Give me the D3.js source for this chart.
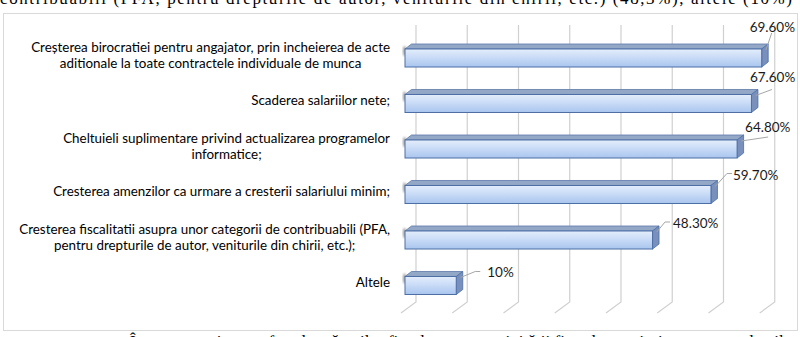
<!DOCTYPE html>
<html>
<head>
<meta charset="utf-8">
<script src="https://cdn.jsdelivr.net/npm/d3@7"></script>
<style>
  body { margin: 0; background: #fff; }
  svg { display: block; }
</style>
</head>
<body>
<svg id="chart" width="800" height="337"></svg>
<script>
// data
const categories = [
    ["Creșterea birocratiei pentru angajator, prin incheierea de acte", "aditionale la toate contractele individuale de munca"],
    ["Scaderea salariilor nete;"],
    ["Cheltuieli suplimentare privind actualizarea programelor", "informatice;"],
    ["Cresterea amenzilor ca urmare a cresterii salariului minim;"],
    ["Cresterea fiscalitatii asupra unor categorii de contribuabili (PFA,", "pentru drepturile de autor, veniturile din chirii, etc.);"],
    ["Altele"]
];
const values = [69.6, 67.6, 64.8, 59.7, 48.3, 10];
const valueLabels = ["69.60%", "67.60%", "64.80%", "59.70%", "48.30%", "10%"];
const gridTicks = [0, 10, 20, 30, 40, 50, 60, 70];

const textAbove = "contribuabili (PFA, pentru drepturile de autor, veniturile din chirii, etc.) (48,3%), altele (10%)";
const textBelow = "În ceea ce privește efectele măsurilor fiscale asupra activității firmelor, majoritatea respondenților";

// hand placed data labels (offset from bar end / bar top) and where the leader meets the label
const labelNudge = [
    {dx: -12, dy: -22, lx: 22, ly: 6, h: false},
    {dx: -1.5, dy: -17, lx: 22, ly: 12, h: false},
    {dx: 8, dy: -13, lx: 23, ly: 10, h: false},
    {dx: 22, dy: -10, lx: -1, ly: -2, h: true},
    {dx: 20.5, dy: -8, lx: -3, ly: -1, h: true},
    {dx: 31, dy: -4, lx: -7, ly: -1, h: true}
];

const svg = d3.select("#chart");
const font = "Lato, 'Open Sans', sans-serif";

// the 3d look
const wallDx = 11, wallTop = 25, wallBottom = 302;
const floorDx = -15, floorDy = 11;
const depthX = 6.5, depthY = -5;

const x = d3.scaleLinear().domain([0, 70]).range([405, 763.75]);
const y = d3.scaleBand()
    .domain(d3.range(categories.length))
    .range([35.25, 308.25])
    .paddingInner(0.604)
    .paddingOuter(0.302);

const defs = svg.append("defs");
const grad = defs.append("linearGradient").attr("id", "front")
    .attr("x1", 0).attr("y1", 0).attr("x2", 0).attr("y2", 1);
grad.append("stop").attr("offset", "0%").attr("stop-color", "#e4eefc");
grad.append("stop").attr("offset", "45%").attr("stop-color", "#cadcf7");
grad.append("stop").attr("offset", "100%").attr("stop-color", "#a9c5ee");
defs.append("filter").attr("id", "blur")
    .append("feGaussianBlur").attr("stdDeviation", 1.2);

// surrounding document text, cut by the screenshot like in the original
svg.append("text")
    .attr("x", 0).attr("y", 4)
    .attr("textLength", 792).attr("lengthAdjust", "spacing")
    .style("font-family", "'Liberation Serif', serif")
    .style("font-size", "17px")
    .text(textAbove);
svg.append("text")
    .attr("x", 130).attr("y", 347)
    .attr("textLength", 668).attr("lengthAdjust", "spacing")
    .style("font-family", "'Liberation Serif', serif")
    .style("font-size", "17px")
    .text(textBelow);

// chart border
svg.append("rect")
    .attr("x", 3.5).attr("y", 13.5)
    .attr("width", 794).attr("height", 317)
    .attr("fill", "#fff")
    .attr("stroke", "#d9d9d9");

// gridlines on the back wall + floor
svg.append("g").selectAll("path")
    .data(gridTicks)
    .enter()
    .append("path")
    .attr("d", d => {
        const gx = x(d) + wallDx;
        return `M${gx},${wallTop}V${wallBottom}l${floorDx},${floorDy}`;
    })
    .attr("fill", "none")
    .attr("stroke", "#d0d0d0")
    .attr("stroke-width", 1.2);

// bars
const bars = svg.append("g").selectAll("g")
    .data(values)
    .enter()
    .append("g");

bars.append("ellipse")
    .attr("cx", x(0) - 0.5)
    .attr("cy", (d, i) => y(i) + 2)
    .attr("rx", 1.6)
    .attr("ry", 5)
    .attr("fill", "#7a7a7a")
    .attr("opacity", 0.7)
    .attr("filter", "url(#blur)");

bars.append("path")   // top face
    .attr("d", (d, i) => {
        const x0 = x(0), x1 = x(d), yt = y(i);
        return `M${x0},${yt}L${x0 + depthX},${yt + depthY}L${x1 + depthX},${yt + depthY}L${x1},${yt}Z`;
    })
    .attr("fill", "#93a7c7")
    .attr("stroke", "#5d79a8")
    .attr("stroke-width", 0.8);

bars.append("path")   // side face
    .attr("d", (d, i) => {
        const x1 = x(d), yt = y(i), h = y.bandwidth();
        return `M${x1},${yt}L${x1 + depthX},${yt + depthY}L${x1 + depthX},${yt + depthY + h}L${x1},${yt + h}Z`;
    })
    .attr("fill", "#7890bb")
    .attr("stroke", "#4c6ea6")
    .attr("stroke-width", 0.8);

bars.append("rect")   // front face
    .attr("x", x(0))
    .attr("y", (d, i) => y(i))
    .attr("width", d => x(d) - x(0))
    .attr("height", y.bandwidth())
    .attr("fill", "url(#front)")
    .attr("stroke", "#4c6ea6")
    .attr("stroke-width", 1);

// leader lines + value labels
const lab = svg.append("g").selectAll("g")
    .data(values)
    .enter()
    .append("g");

lab.append("path")
    .attr("d", (d, i) => {
        const n = labelNudge[i];
        const sx = x(d) + depthX / 2 + 1, sy = y(i) + 1;
        const lx = x(d) + n.dx, ly = y(i) + n.dy;
        const ex = lx + n.lx, ey = ly + n.ly;
        return n.h ? `M${sx},${sy}L${ex - 5},${ey}H${ex}` : `M${sx},${sy}L${ex},${ey}`;
    })
    .attr("fill", "none")
    .attr("stroke", "#a6a6a6")
    .attr("stroke-width", 1);

lab.append("text")
    .attr("x", (d, i) => x(d) + labelNudge[i].dx)
    .attr("y", (d, i) => y(i) + labelNudge[i].dy)
    .attr("dy", "0.35em")
    .style("font-family", font)
    .style("font-size", "13.5px")
    .style("fill", "#1a1a1a")
    .text((d, i) => valueLabels[i]);

// category labels, wrapped lines centred, block right aligned
const lineH = 16.2;
const cat = svg.append("g")
    .style("font-family", font)
    .style("font-size", "13.4px")
    .style("fill", "#000");

categories.forEach((lines, i) => {
    const g = cat.append("g");
    const t = g.selectAll("text").data(lines).enter().append("text")
        .attr("dy", "0.35em")
        .attr("text-anchor", "middle")
        .text(d => d);
    let maxW = 0;
    t.each(function() { maxW = Math.max(maxW, this.getComputedTextLength()); });
    const cx = 390 - maxW / 2;
    const cy = y(i) + y.bandwidth() / 2 - 3;
    t.attr("x", cx)
     .attr("y", (d, j) => cy + (j - (lines.length - 1) / 2) * lineH);
});
</script>
</body>
</html>
